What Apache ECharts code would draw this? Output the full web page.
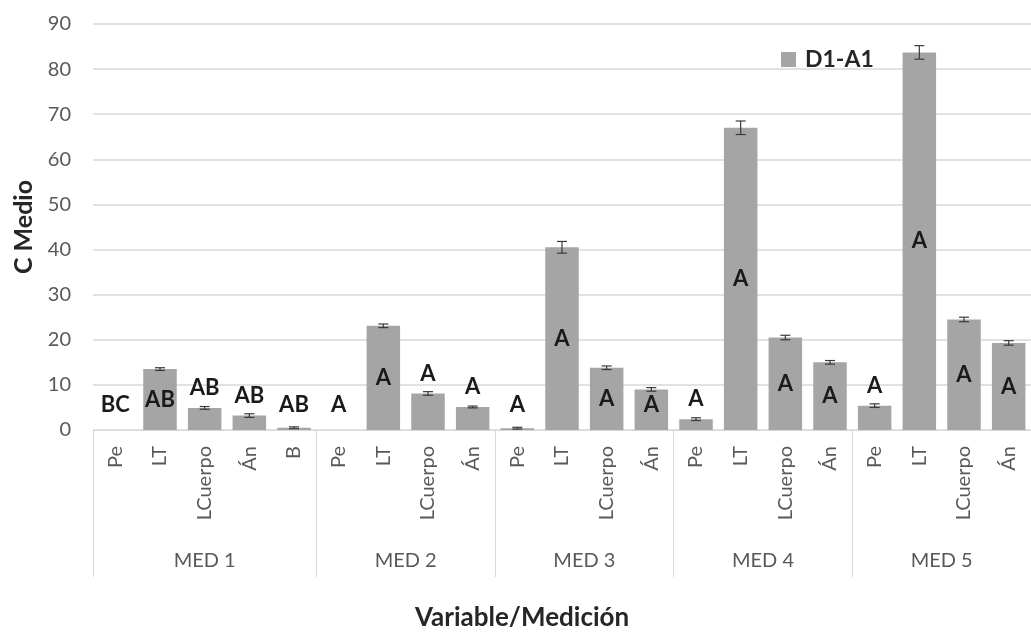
<!DOCTYPE html>
<html>
<head>
<meta charset="utf-8">
<script src="https://cdn.jsdelivr.net/npm/echarts@6/dist/echarts.min.js"></script>
<style>
  html, body { margin: 0; padding: 0; background: #fff; }
  #chart { width: 1031px; height: 636px; }
</style>
</head>
<body>
<div id="chart"></div>
<script>
// Variables measured at each sampling (MED 1 … MED 5)
const categories = ['Pe', 'LT', 'LCuerpo', 'Án', 'B',
                    'Pe', 'LT', 'LCuerpo', 'Án',
                    'Pe', 'LT', 'LCuerpo', 'Án',
                    'Pe', 'LT', 'LCuerpo', 'Án',
                    'Pe', 'LT', 'LCuerpo', 'Án'];
const groups = ['MED 1', 'MED 2', 'MED 3', 'MED 4', 'MED 5'];
const groupSizes = [5, 4, 4, 4, 4];

// Mean C values (series D1-A1) and their error
const values = [0, 13.5, 4.9, 3.2, 0.5,
                0, 23.1, 8.1, 5.1,
                0.4, 40.5, 13.8, 9.0,
                2.4, 67.0, 20.5, 15.0,
                5.4, 83.7, 24.5, 19.3];
const errors = [0, 0.3, 0.3, 0.4, 0.2,
                0, 0.4, 0.4, 0.2,
                0.2, 1.3, 0.4, 0.4,
                0.3, 1.5, 0.5, 0.4,
                0.4, 1.5, 0.5, 0.5];
// Significance letters
const letters = ['BC', 'AB', 'AB', 'AB', 'AB',
                 'A', 'A', 'A', 'A',
                 'A', 'A', 'A', 'A',
                 'A', 'A', 'A', 'A',
                 'A', 'A', 'A', 'A'];
const yTicks = [0, 10, 20, 30, 40, 50, 60, 70, 80, 90];

const FONT = 'Lato, "Open Sans", sans-serif';
const GRID_LINE = '#d9d9d9';

// group boundaries and centres on a 0..N scale matching the category bands
const bounds = [0];
groupSizes.forEach(s => bounds.push(bounds[bounds.length - 1] + s));
const centers = groups.map((g, i) => (bounds[i] + bounds[i + 1]) / 2);

const chart = echarts.init(document.getElementById('chart'), null, { renderer: 'canvas' });

chart.setOption({
  animation: false,
  backgroundColor: '#ffffff',
  textStyle: { fontFamily: FONT },
  legend: {
    left: 776, top: 43,
    itemWidth: 15, itemHeight: 15,
    icon: 'rect',
    data: ['D1-A1'],
    textStyle: { fontFamily: FONT, fontWeight: 'bold', fontSize: 23, color: '#262626', padding: [0, 0, 0, 4] }
  },
  graphic: [{
    type: 'text',
    left: 545 - 130, top: 605,
    style: {
      text: 'Variable/Medición',
      font: 'bold 26px ' + FONT,
      fill: '#262626',
      width: 260,
      align: 'center'
    }
  }],
  grid: { left: 93, right: -13, top: 24, bottom: 206 },
  xAxis: [{
    type: 'category',
    data: categories,
    axisLine: { show: true, lineStyle: { color: GRID_LINE, width: 1 } },
    axisTick: { show: false },
    axisLabel: {
      interval: 0, rotate: 90, margin: 16,
      fontFamily: FONT, fontSize: 20, color: '#595959'
    },
    splitLine: { show: false }
  }, {
    type: 'value',
    min: 0, max: bounds[bounds.length - 1],
    position: 'bottom',
    offset: 147,
    axisLine: { show: false },
    splitLine: { show: false },
    axisTick: {
      show: true, inside: true, length: 147,
      customValues: bounds,
      lineStyle: { color: GRID_LINE, width: 1 }
    },
    axisLabel: {
      inside: true, margin: 6,
      customValues: centers,
      fontFamily: FONT, fontSize: 20, color: '#595959',
      formatter: v => {
        const i = centers.findIndex(c => Math.abs(c - v) < 1e-6);
        return i >= 0 ? groups[i] : '';
      }
    }
  }],
  yAxis: {
    type: 'value',
    min: yTicks[0], max: yTicks[yTicks.length - 1], interval: 10,
    name: 'C Medio',
    nameLocation: 'middle',
    nameGap: 54,
    nameTextStyle: { fontFamily: FONT, fontWeight: 'bold', fontSize: 25, color: '#262626' },
    axisLine: { show: false },
    axisTick: { show: false },
    axisLabel: { margin: 22, fontFamily: FONT, fontSize: 20, color: '#595959' },
    splitLine: { lineStyle: { color: GRID_LINE, width: 1.5 } }
  },
  series: [{
    name: 'D1-A1',
    type: 'bar',
    xAxisIndex: 0,
    z: 2,
    data: values,
    barCategoryGap: '25%',
    itemStyle: { color: '#a5a5a5' }
  }, {
    // error bars
    type: 'custom',
    xAxisIndex: 0,
    z: 10,
    silent: true,
    data: values.map((v, i) => [i, v, errors[i]]),
    renderItem: (params, api) => {
      const i = api.value(0), v = api.value(1), e = api.value(2);
      if (!e) return null;
      const hi = api.coord([i, v + e]);
      const lo = api.coord([i, v - e]);
      const cap = 5;
      const style = { stroke: '#3a3a3a', lineWidth: 1.2 };
      return {
        type: 'group',
        children: [
          { type: 'line', shape: { x1: hi[0], y1: hi[1], x2: lo[0], y2: lo[1] }, style },
          { type: 'line', shape: { x1: hi[0] - cap, y1: hi[1], x2: hi[0] + cap, y2: hi[1] }, style },
          { type: 'line', shape: { x1: lo[0] - cap, y1: lo[1], x2: lo[0] + cap, y2: lo[1] }, style }
        ]
      };
    }
  }, {
    // significance letters: centred in tall bars, above short ones
    type: 'custom',
    xAxisIndex: 0,
    z: 11,
    silent: true,
    data: values.map((v, i) => [i, v]),
    renderItem: (params, api) => {
      const i = api.value(0), v = api.value(1);
      const base = api.coord([i, 0]);
      const top = api.coord([i, v]);
      let y = v >= 9 ? (base[1] + top[1]) / 2 : top[1] - 20;
      y = Math.min(y, base[1] - 25);
      return {
        type: 'text',
        z2: 100,
        style: {
          text: letters[params.dataIndex],
          x: top[0], y: y,
          align: 'center', verticalAlign: 'middle',
          font: 'bold 22px ' + FONT,
          fill: '#1a1a1a'
        }
      };
    }
  }]
});
</script>
</body>
</html>
